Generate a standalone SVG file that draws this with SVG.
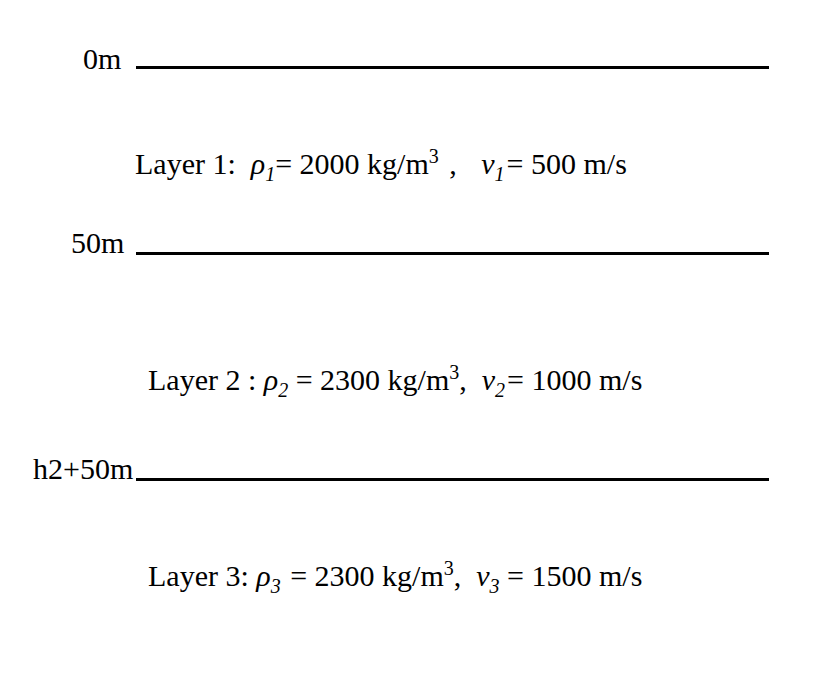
<svg xmlns="http://www.w3.org/2000/svg" width="828" height="675" viewBox="0 0 828 675">
<style>
.t{font-family:"Liberation Serif","Times New Roman",serif;font-size:30px;fill:#000;white-space:pre}
.i{font-style:italic}
.s{font-size:20px}
.ln{stroke:#000;stroke-width:3;fill:none}
</style>
<rect width="828" height="675" fill="#fff"/>
<g id="connectors">
<line class="ln" x1="136" y1="67.5" x2="769" y2="67.5"/>
<line class="ln" x1="136" y1="253.5" x2="769" y2="253.5"/>
<line class="ln" x1="136" y1="479.5" x2="769" y2="479.5"/>
</g>
<g id="depth0"><text class="t" x="83" y="69">0m</text></g>
<g id="depth50"><text class="t" x="71" y="253">50m</text></g>
<g id="depthh2"><text class="t" x="33" y="479">h2+50m</text></g>
<g id="layer1"><text class="t" x="135" y="174" xml:space="preserve">Layer 1:  <tspan class="i">ρ</tspan><tspan class="i s" dy="7">1</tspan><tspan dy="-7">= 2000 kg/m</tspan><tspan class="s" dy="-11">3</tspan><tspan dy="11" dx="3"> ,   </tspan><tspan class="i" dx="2">v</tspan><tspan class="i s" dy="7">1</tspan><tspan dy="-7" dx="2">= 500 m/s</tspan></text></g>
<g id="layer2"><text class="t" x="148" y="390" xml:space="preserve">Layer 2 : <tspan class="i">ρ</tspan><tspan class="i s" dy="7">2</tspan><tspan dy="-7"> = 2300 kg/m</tspan><tspan class="s" dy="-11">3</tspan><tspan dy="11">,  </tspan><tspan class="i">v</tspan><tspan class="i s" dy="7">2</tspan><tspan dy="-7" dx="2">= 1000 m/s</tspan></text></g>
<g id="layer3"><text class="t" x="148" y="586" xml:space="preserve">Layer 3: <tspan class="i">ρ</tspan><tspan class="i s" dy="7">3</tspan><tspan dy="-7" dx="2"> = 2300 kg/m</tspan><tspan class="s" dy="-11">3</tspan><tspan dy="11">,  </tspan><tspan class="i">v</tspan><tspan class="i s" dy="7">3</tspan><tspan dy="-7"> = 1500 m/s</tspan></text></g>
</svg>
